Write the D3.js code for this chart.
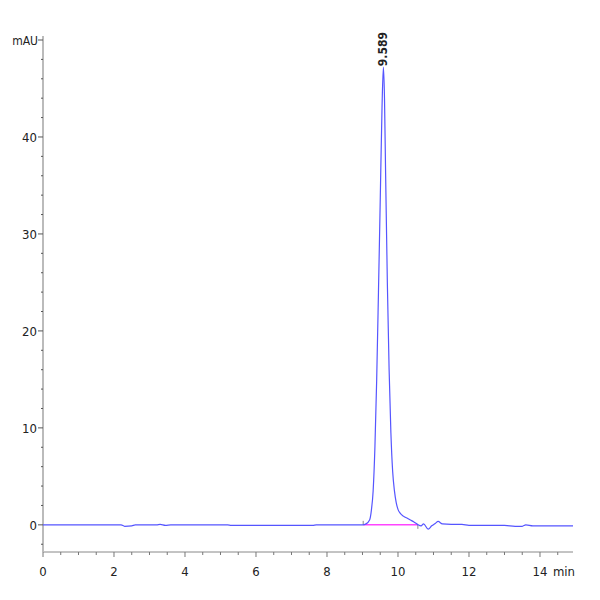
<!DOCTYPE html>
<html>
<head>
<meta charset="utf-8">
<script src="https://cdn.jsdelivr.net/npm/d3@7"></script>
<style>
  body { margin: 0; background: #fff; }
  svg text { font-family: "Liberation Sans Narrow", "DejaVu Sans Condensed", "Liberation Sans", Arial, sans-serif; font-stretch: condensed; fill: #222; }
</style>
</head>
<body>
<svg width="600" height="600"></svg>
<script>
// retention time (min) and signal (mAU)
const times = [0, 1.0, 2.2, 2.3, 2.5, 2.6, 3.2, 3.3, 3.45, 3.6, 5.2, 5.3, 7.6, 7.7, 8.8, 9.0,
  9.1, 9.2, 9.25, 9.3, 9.35, 9.4, 9.45, 9.5, 9.55, 9.589, 9.62, 9.65, 9.7, 9.75, 9.8, 9.85,
  9.9, 9.95, 10.0, 10.06, 10.15, 10.25, 10.35, 10.45, 10.55, 10.65, 10.72, 10.85, 10.95,
  11.05, 11.13, 11.25, 11.5, 11.8, 12.0, 12.5, 13.0, 13.3, 13.5, 13.6, 13.8, 14.0, 14.93];
const signal = [0, 0, 0, -0.15, -0.1, 0, 0, 0.05, -0.05, 0, 0, -0.05, -0.05, 0, 0, 0,
  0.1, 0.5, 1.5, 3.5, 8, 15, 24, 33.5, 43, 47.2, 44, 36.5, 25, 16, 9.5, 5.5,
  3.5, 2.3, 1.6, 1.2, 0.9, 0.7, 0.5, 0.3, 0.05, -0.1, 0.1, -0.45, -0.1,
  0.15, 0.35, 0.1, 0.05, 0.05, -0.05, -0.05, -0.05, -0.15, -0.15, 0, -0.1, -0.1, -0.1];
const peakTime = 9.589;
const peakHeight = 47.2;
const baselineStart = 9.02;
const baselineEnd = 10.56;
const xMajor = [0, 2, 4, 6, 8, 10, 12, 14];
const yMajor = [0, 10, 20, 30, 40];

const svg = d3.select('svg');
const x = d3.scaleLinear().domain([0, 14.93]).range([43, 573]);
const y = d3.scaleLinear().domain([-2.8, 50]).range([552, 40]);

const xMinor = d3.range(0, 14.93, 0.5);
const yMinor = d3.range(-2, 50, 2);

// x axis
const gx = svg.append('g');
gx.append('line').attr('x1', 43).attr('x2', 573).attr('y1', 552).attr('y2', 552)
  .attr('stroke', '#888').attr('stroke-width', 1);
gx.selectAll('.xminor').data(xMinor).enter().append('line')
  .attr('x1', d => x(d)).attr('x2', d => x(d))
  .attr('y1', 552).attr('y2', d => xMajor.includes(d) ? 557 : 555)
  .attr('stroke', '#777');
gx.selectAll('.xlab').data(xMajor).enter().append('text')
  .attr('x', d => x(d)).attr('y', 576)
  .attr('text-anchor', 'middle').attr('font-size', 13)
  .text(d => d);
gx.append('text').attr('x', 575).attr('y', 576).attr('text-anchor', 'end')
  .attr('font-size', 13).text('min');

// y axis
const gy = svg.append('g');
gy.append('line').attr('x1', 43).attr('x2', 43).attr('y1', 36).attr('y2', 552)
  .attr('stroke', '#bbb').attr('stroke-width', 2);
gy.selectAll('.yminor').data(yMinor).enter().append('line')
  .attr('x1', d => yMajor.includes(d) ? 38 : 41).attr('x2', 43)
  .attr('y1', d => y(d)).attr('y2', d => y(d))
  .attr('stroke', '#555');
gy.append('line').attr('x1', 38).attr('x2', 43).attr('y1', y(50)).attr('y2', y(50)).attr('stroke', '#555');
gy.selectAll('.ylab').data(yMajor).enter().append('text')
  .attr('x', 37).attr('y', d => y(d) + 5)
  .attr('text-anchor', 'end').attr('font-size', 13)
  .text(d => d);
gy.append('text').attr('x', 38).attr('y', y(50) + 5).attr('text-anchor', 'end')
  .attr('font-size', 12).text('mAU');

// integration baseline and markers
svg.append('line')
  .attr('x1', x(baselineStart)).attr('x2', x(baselineEnd))
  .attr('y1', y(0)).attr('y2', y(0))
  .attr('stroke', '#ff44ff').attr('stroke-width', 1.5);
svg.append('line').attr('x1', x(baselineStart)).attr('x2', x(baselineStart))
  .attr('y1', y(0) - 4).attr('y2', y(0)).attr('stroke', '#888');
svg.append('line').attr('x1', x(baselineEnd)).attr('x2', x(baselineEnd))
  .attr('y1', y(0)).attr('y2', y(0) + 4).attr('stroke', '#888');

// trace
const pts = times.map((t, i) => [t, signal[i]]);
svg.append('path').datum(pts)
  .attr('fill', 'none').attr('stroke', '#5555ff').attr('stroke-width', 1.2)
  .attr('d', d3.line().x(d => x(d[0])).y(d => y(d[1])).curve(d3.curveMonotoneX));

// peak label
svg.append('text')
  .attr('transform', `translate(${x(peakTime) + 4},${y(peakHeight) - 1}) rotate(-90)`)
  .attr('font-size', 12).attr('font-weight', 'bold').attr('text-anchor', 'start')
  .text(peakTime.toFixed(3));
</script>
</body>
</html>
